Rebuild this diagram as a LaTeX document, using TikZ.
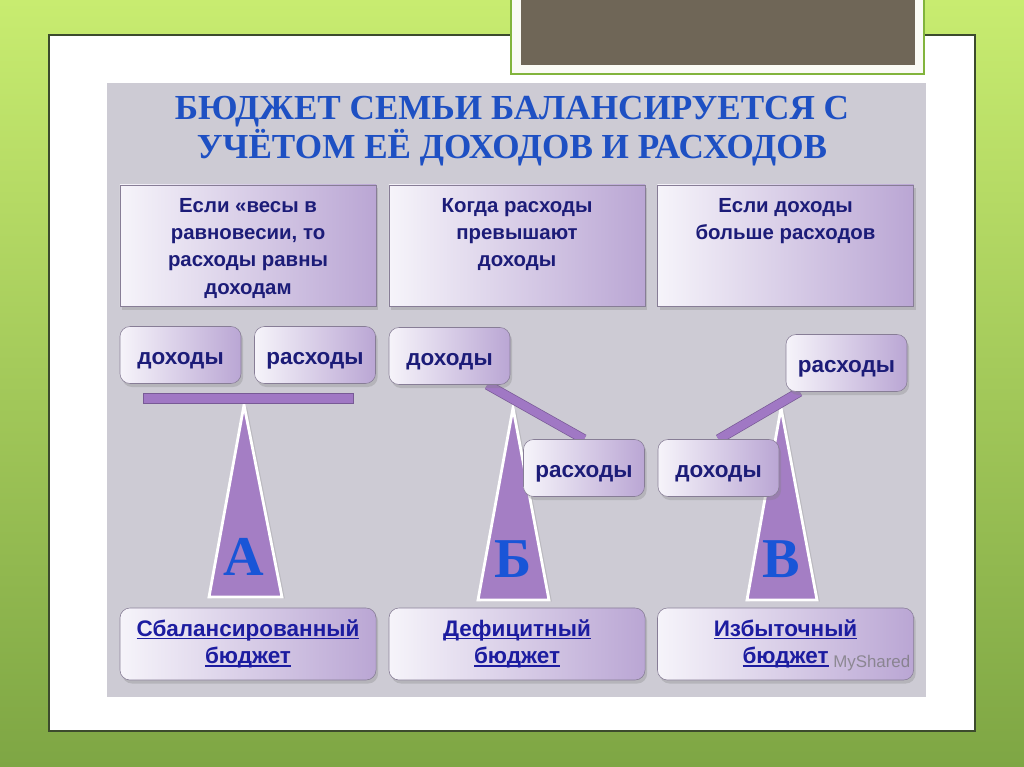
\documentclass[tikz,border=0pt]{standalone}
\usepackage{fontspec}
\setmainfont{Liberation Sans}
\newfontfamily\titlefont{Liberation Serif}
\usetikzlibrary{positioning,calc,shadows,backgrounds}
\pgfdeclarelayer{back}
\pgfsetlayers{back,background,main}

\definecolor{greentop}{RGB}{200,236,112}
\definecolor{greenbot}{RGB}{126,166,68}
\definecolor{slideedge}{RGB}{60,75,45}
\definecolor{framegreen}{RGB}{130,180,60}
\definecolor{framewhite}{RGB}{250,250,245}
\definecolor{brownbox}{RGB}{111,102,87}
\definecolor{panelgray}{RGB}{205,203,212}
\definecolor{boxlight}{RGB}{246,244,250}
\definecolor{boxdark}{RGB}{186,166,212}
\definecolor{boxedge}{RGB}{135,125,150}
\definecolor{navy}{RGB}{28,28,120}
\definecolor{linkblue}{RGB}{28,28,160}
\definecolor{trifill}{RGB}{164,126,196}
\definecolor{beamfill}{RGB}{160,120,196}
\definecolor{beamedge}{RGB}{120,90,150}
\definecolor{titleblue}{RGB}{30,80,195}
\definecolor{letterblue}{RGB}{25,85,215}

% подчёркнутая ссылка
\newcommand\lnk[1]{\setbox0\hbox{#1}\rlap{\rule[-2pt]{\wd0}{0.9pt}}\box0}

\tikzset{
  shade/.style={drop shadow={shadow xshift=1.5pt,shadow yshift=-2.5pt,opacity=0.3}},
  topbox/.style={draw=boxedge, left color=boxlight, right color=boxdark,
    minimum width=6.4cm, minimum height=3.025cm, inner sep=0pt, shade},
  toptext/.style={inner sep=0pt, align=center, text=navy,
    font=\bfseries\fontsize{14.5}{19.5}\selectfont},
  pan/.style={draw=boxedge, rounded corners=0.25cm, left color=boxlight, right color=boxdark,
    minimum width=3.025cm, minimum height=1.425cm, inner sep=0pt, text=navy,
    text height=14pt, text depth=0pt, font=\bfseries\fontsize{16}{18}\selectfont, shade},
  botbox/.style={draw=boxedge, rounded corners=0.25cm, left color=boxlight, right color=boxdark,
    minimum width=6.4cm, minimum height=1.8cm, inner sep=0pt, align=center, text=linkblue,
    font=\bfseries\fontsize{16}{19.5}\selectfont, shade},
  title/.style={inner sep=0pt, text=titleblue, font=\titlefont\bfseries\fontsize{25}{28}\selectfont},
  letter/.style={inner sep=0pt, text=letterblue, font=\titlefont\bfseries\fontsize{40}{44}\selectfont},
  tri/.style={fill=trifill, draw=white, line width=2pt, line join=miter,
    drop shadow={shadow xshift=2pt,shadow yshift=-1pt,opacity=0.25}},
  bar/.style={fill=beamfill, draw=beamedge, line width=0.6pt},
  beam/.style={draw=beamfill, line width=6pt, preaction={draw=beamedge, line width=7pt}},
  wmark/.style={inner sep=0pt, text=black!55, opacity=0.7, font=\fontsize{12}{14}\selectfont}
}

\begin{document}
\begin{tikzpicture}[x=0.025cm,y=-0.025cm]
\useasboundingbox (0,0) rectangle (1024,767);
\begin{pgfonlayer}{back}
  % фон
  \fill[top color=greentop, bottom color=greenbot] (0,0) rectangle (1024,767);
  % слайд
  \draw[slideedge, fill=white, line width=0.8pt] (49,35) rectangle (975,731);
  \draw[framegreen, fill=framewhite, line width=0.8pt] (511,-2) rectangle (924,74);
  \fill[brownbox] (521,-2) rectangle (915,65);
  % панель
  \fill[panelgray] (107,83) rectangle (926,697);
\end{pgfonlayer}

% заголовок
\node[title, anchor=base] (title1) at (512,120) {БЮДЖЕТ СЕМЬИ БАЛАНСИРУЕТСЯ С};
\node[title, anchor=base] (title2) at (512,159) {УЧЁТОМ ЕЁ ДОХОДОВ И РАСХОДОВ};

% условия
\node[topbox] (box1) at (248,245.5) {};
\node[topbox] (box2) at (517,245.5) {};
\node[topbox] (box3) at (785.5,245.5) {};
\node[toptext, below=0.325cm of box1.north] (text1) {Если «весы в\\равновесии, то\\расходы равны\\доходам};
\node[toptext, below=0.325cm of box2.north] (text2) {Когда расходы\\превышают\\доходы};
\node[toptext, below=0.325cm of box3.north] (text3) {Если доходы\\больше расходов};

% чаши
\node[pan] (adox) at (180.5,355) {доходы};
\node[pan] (aras) at (315,355) {расходы};
\node[pan] (bdox) at (449.5,356) {доходы};
\node[pan] (bras) at (584,468) {расходы};
\node[pan] (cdox) at (718.5,468) {доходы};
\node[pan] (cras) at (846.5,363) {расходы};

% опоры и коромысла
\begin{scope}[on background layer]
  \draw[tri] (244,405) -- (209,597) -- (282,597) -- cycle;
  \draw[tri] (513,408) -- (478,600) -- (549,600) -- cycle;
  \draw[tri] (781,408) -- (747,600) -- (817,600) -- cycle;
  \draw[bar] (143,393) rectangle (353,403);
  \draw[beam] ($(bdox.south east)+(-23,0)$) -- (bras.north);
  \draw[beam] (cdox.north) -- ($(cras.south west)+(14,0)$);
\end{scope}
\node[letter, anchor=base] (la) at (244,575) {А};
\node[letter, anchor=base] (lb) at (513,577) {Б};
\node[letter, anchor=base] (lc) at (781,577) {В};

% итоги
\node[botbox] (res1) at (248,644) {\lnk{Сбалансированный}\\\lnk{бюджет}};
\node[botbox] (res2) at (517,644) {\lnk{Дефицитный}\\\lnk{бюджет}};
\node[botbox] (res3) at (785.5,644) {\lnk{Избыточный}\\\lnk{бюджет}};
\node[wmark, anchor=base west] (wm) at (833,667) {MyShared};
\end{tikzpicture}
\end{document}
